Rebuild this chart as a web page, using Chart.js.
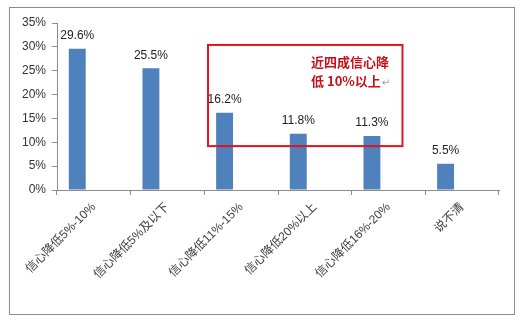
<!DOCTYPE html>
<html>
<head>
<meta charset="utf-8">
<script src="https://cdn.jsdelivr.net/npm/chart.js@4/dist/chart.umd.min.js"></script>
<style>
  body { margin: 0; background: #fff; }
  #frame { position: absolute; left: 9px; top: 7px; width: 504px; height: 306px; border: 1px solid #8c8c8c; }
  canvas { display: block; }
</style>
</head>
<body>
<div id="frame"><canvas id="chart" width="504" height="306"></canvas></div>
<script>
// 数据
var categories = ['信心降低5%-10%', '信心降低5%及以下', '信心降低11%-15%', '信心降低20%以上', '信心降低16%-20%', '说不清'];
var values = [29.6, 25.5, 16.2, 11.8, 11.3, 5.5];
var emptySeries = [null, null, null, null, null, null]; // 原图中的空系列，占位
var yTicks = [0, 5, 10, 15, 20, 25, 30, 35];
var noteLines = ['近四成信心降', '低 10%以上'];

var fontFamily = '"Liberation Sans", "Noto Sans CJK SC", sans-serif';

// 柱子上方的数值标签
var valueLabels = {
    id: 'valueLabels',
    afterDatasetsDraw: function (chart) {
        var ctx = chart.ctx;
        var meta = chart.getDatasetMeta(0);
        ctx.save();
        ctx.font = '12px ' + fontFamily;
        ctx.fillStyle = '#222';
        ctx.textAlign = 'center';
        ctx.textBaseline = 'bottom';
        meta.data.forEach(function (bar, i) {
            ctx.fillText(values[i].toFixed(1) + '%', bar.x, bar.y - 7);
        });
        ctx.restore();
    }
};

// 红框说明
var noteBox = {
    id: 'noteBox',
    afterDraw: function (chart) {
        var ctx = chart.ctx;
        var x = chart.scales.x, y = chart.scales.y;
        var left = x.getPixelForValue(1.55), right = x.getPixelForValue(4.19);
        var top = y.getPixelForValue(30.4), bottom = y.getPixelForValue(9.2);
        ctx.save();
        ctx.strokeStyle = '#e0141e';
        ctx.lineWidth = 2;
        ctx.strokeRect(left, top, right - left, bottom - top);
        ctx.fillStyle = '#c8101a';
        ctx.font = 'bold 13px "Noto Sans CJK SC", sans-serif';
        ctx.textAlign = 'left';
        ctx.textBaseline = 'middle';
        ctx.fillText(noteLines[0], left + 103, top + 17);
        ctx.fillText(noteLines[1], left + 103, top + 36);
        var w = ctx.measureText(noteLines[1]).width;
        ctx.fillStyle = '#999';
        ctx.font = '10px "DejaVu Sans", sans-serif';
        ctx.fillText('↵', left + 104 + w, top + 38);
        ctx.restore();
    }
};

var ctx = document.getElementById('chart').getContext('2d');
const chart = new Chart(ctx, {
    type: 'bar',
    data: {
        labels: categories,
        datasets: [{
            data: values,
            backgroundColor: '#4f81bd',
            categoryPercentage: 0.9,
            barPercentage: 0.51
        }, {
            data: emptySeries,
            backgroundColor: '#c0504d',
            categoryPercentage: 0.9,
            barPercentage: 0.51
        }]
    },
    plugins: [valueLabels, noteBox],
    options: {
        responsive: false,
        animation: false,
        layout: { padding: { top: 15, right: 15, left: 0, bottom: 0 } },
        plugins: { legend: { display: false }, tooltip: { enabled: false } },
        scales: {
            x: {
                afterFit: function (s) { s.height = 124; },
                border: { color: '#8c8c8c' },
                grid: { drawOnChartArea: false, tickLength: 5, color: '#8c8c8c' },
                ticks: {
                    minRotation: 45, maxRotation: 45, padding: 5,
                    color: '#404040', font: { size: 12, family: fontFamily }
                }
            },
            y: {
                min: 0, max: 35,
                afterFit: function (s) { s.width = 47; },
                afterBuildTicks: function (s) { s.ticks = yTicks.map(function (v) { return { value: v }; }); },
                border: { color: '#8c8c8c' },
                grid: { drawOnChartArea: false, tickLength: 5, color: '#8c8c8c' },
                ticks: {
                    padding: 6, color: '#333', font: { size: 12, family: fontFamily },
                    callback: function (v) { return v + '%'; }
                }
            }
        }
    }
});
</script>
</body>
</html>
